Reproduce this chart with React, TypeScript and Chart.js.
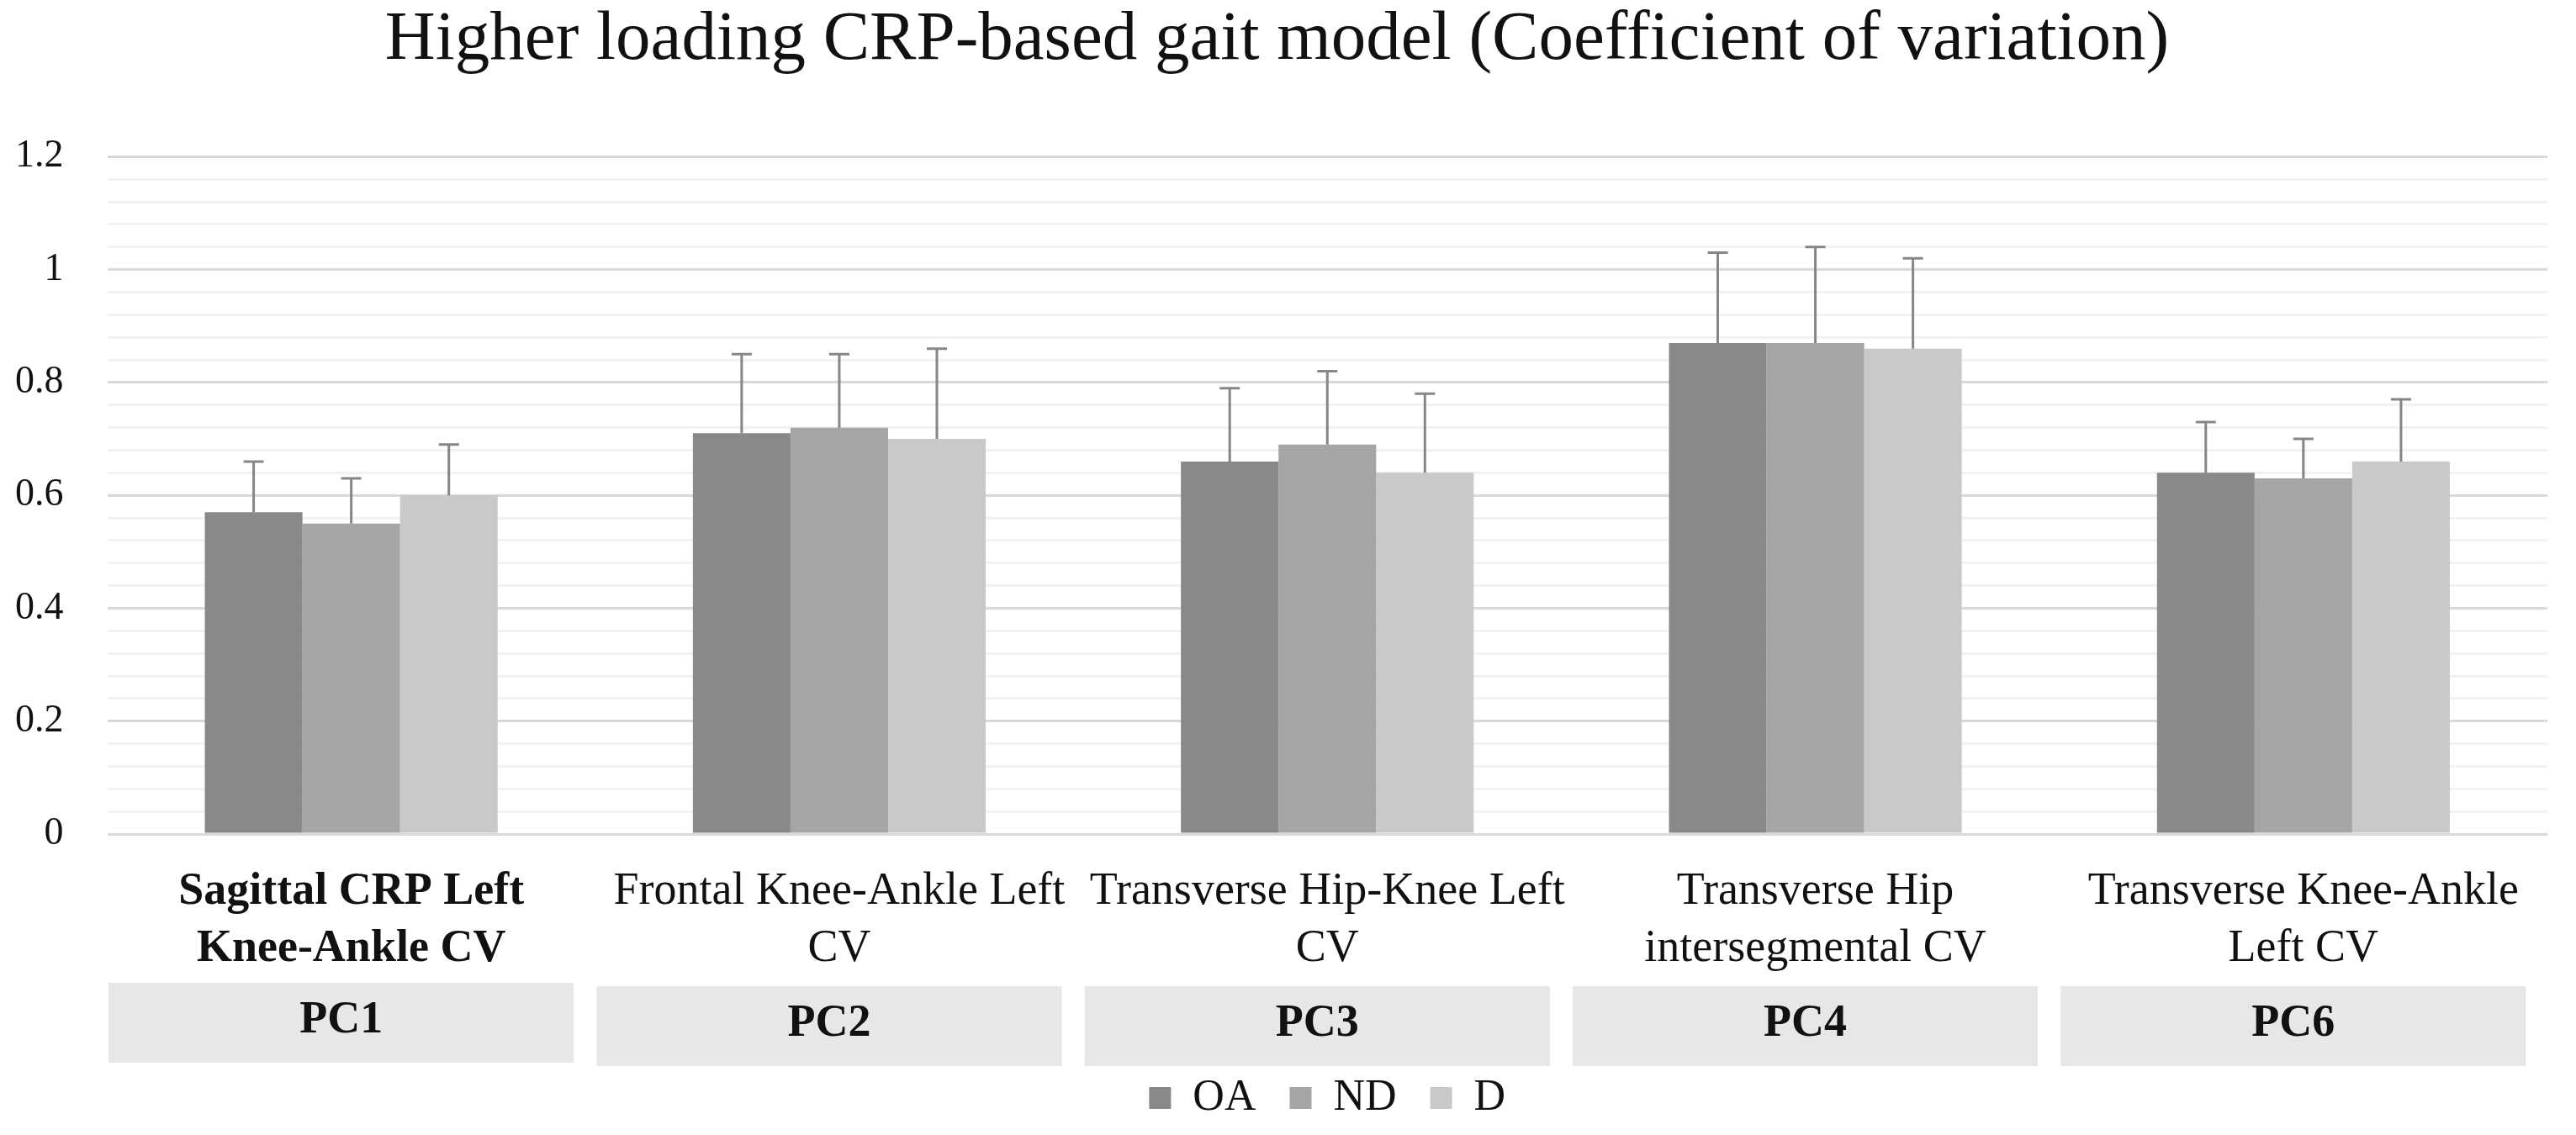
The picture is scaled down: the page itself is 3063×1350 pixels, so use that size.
import React, { useEffect, useRef } from 'react';
import { Chart, registerables } from 'chart.js';

Chart.register(...registerables);

const TITLE = 'Higher loading CRP-based gait model (Coefficient of variation)';
const CATEGORIES: string[][] = [
  ['Sagittal CRP Left', 'Knee-Ankle CV'],
  ['Frontal Knee-Ankle Left', 'CV'],
  ['Transverse Hip-Knee Left', 'CV'],
  ['Transverse Hip', 'intersegmental CV'],
  ['Transverse Knee-Ankle', 'Left CV'],
];
const COMPONENTS = ['PC1', 'PC2', 'PC3', 'PC4', 'PC6'];
const SERIES_NAMES = ['OA', 'ND', 'D'];

const OA_MEAN = [0.57, 0.71, 0.66, 0.87, 0.64];
const ND_MEAN = [0.55, 0.72, 0.69, 0.87, 0.63];
const D_MEAN = [0.6, 0.7, 0.64, 0.86, 0.66];

const OA_SD = [0.09, 0.14, 0.13, 0.16, 0.09];
const ND_SD = [0.08, 0.13, 0.13, 0.17, 0.07];
const D_SD = [0.09, 0.16, 0.14, 0.16, 0.11];

const Y_MIN = 0;
const Y_MAX = 1.2;
const Y_MINOR_STEP = 0.04;
const Y_MAJOR_STEP = 0.2;

const COLORS = ['#898989', '#a5a5a5', '#c9c9c9'];
const FONT = '"Liberation Serif", "Times New Roman", serif';

const SDS = [OA_SD, ND_SD, D_SD];

const isMajor = (v: number) => {
  const r = Math.round(v / Y_MAJOR_STEP);
  return Math.abs(v - r * Y_MAJOR_STEP) < 1e-6;
};

const errorBarPlugin = {
  id: 'errorBars',
  afterDatasetsDraw(chart: any) {
    const ctx = chart.ctx;
    const yScale = chart.scales.y;
    ctx.save();
    ctx.strokeStyle = '#868686';
    ctx.lineWidth = 3;
    chart.data.datasets.forEach((ds: any, di: number) => {
      const meta = chart.getDatasetMeta(di);
      meta.data.forEach((el: any, j: number) => {
        const v = ds.data[j];
        const top = yScale.getPixelForValue(v + SDS[di][j]);
        const x = el.x;
        ctx.beginPath();
        ctx.moveTo(x, el.y);
        ctx.lineTo(x, top);
        ctx.moveTo(x - 12, top);
        ctx.lineTo(x + 12, top);
        ctx.stroke();
      });
    });
    ctx.restore();
  },
};

const componentBoxPlugin = {
  id: 'componentBoxes',
  afterDraw(chart: any) {
    const ctx = chart.ctx;
    const xScale = chart.scales.x;
    const area = chart.chartArea;
    const catW = (xScale.right - xScale.left) / COMPONENTS.length;
    const w = catW * 0.953;
    ctx.save();
    COMPONENTS.forEach((name, i) => {
      const cx = xScale.getPixelForValue(i) - 12;
      const top = area.bottom + (i === 0 ? 177 : 181);
      const h = 95;
      ctx.fillStyle = '#e7e7e7';
      ctx.fillRect(cx - w / 2, top, w, h);
      ctx.fillStyle = '#111';
      ctx.font = `bold 54px ${FONT}`;
      ctx.textAlign = 'center';
      ctx.textBaseline = 'middle';
      ctx.fillText(name, cx, top + h / 2 - 2);
    });
    ctx.restore();
  },
};

export default function App() {
  const ref = useRef<HTMLCanvasElement>(null);

  useEffect(() => {
    if (!ref.current) return;
    const chart = new Chart(ref.current, {
      type: 'bar',
      data: {
        labels: CATEGORIES,
        datasets: [OA_MEAN, ND_MEAN, D_MEAN].map((d, i) => ({
          label: SERIES_NAMES[i],
          data: d,
          backgroundColor: COLORS[i],
          borderWidth: 0,
          categoryPercentage: 0.6,
          barPercentage: 1.0,
        })),
      },
      options: {
        responsive: false,
        animation: false,
        devicePixelRatio: 1,
        layout: { padding: { left: 0, right: 26, top: 0, bottom: 0 } },
        plugins: {
          title: {
            display: true,
            text: TITLE,
            color: '#111',
            font: { family: FONT, size: 83, weight: 'normal', lineHeight: 0.8 },
            padding: { top: 7, bottom: 105 },
          },
          legend: {
            display: true,
            position: 'bottom',
            fullSize: false,
            labels: {
              color: '#111',
              font: { family: FONT, size: 52 },
              boxWidth: 26,
              boxHeight: 26,
              padding: 40,
            },
          },
          tooltip: { enabled: false },
        },
        scales: {
          x: {
            grid: { display: false },
            border: { display: false },
            ticks: {
              color: '#111',
              padding: 27,
              maxRotation: 0,
              autoSkip: false,
              font: (c: any) => ({
                family: FONT,
                size: 54,
                lineHeight: 1.26,
                weight: c.index === 0 ? 'bold' : 'normal',
              }),
            },
            afterFit: (scale: any) => {
              scale.height = 248;
            },
          },
          y: {
            min: Y_MIN,
            max: Y_MAX,
            border: { display: false },
            grid: {
              drawTicks: false,
              color: (c: any) => (isMajor(c.tick.value) ? '#d9d9d9' : '#f2f2f2'),
              lineWidth: 3,
            },
            ticks: {
              stepSize: Y_MINOR_STEP,
              autoSkip: false,
              color: '#111',
              padding: 52,
              font: { family: FONT, size: 46 },
              callback: (v: any) => {
                const n = Number(v);
                if (!isMajor(n)) return '';
                return String(Number((Math.round(n / Y_MAJOR_STEP) * Y_MAJOR_STEP).toFixed(1)));
              },
            },
            afterFit: (scale: any) => {
              scale.width = 119.5;
            },
          },
        },
      },
      plugins: [errorBarPlugin, componentBoxPlugin],
    } as any);
    return () => chart.destroy();
  }, []);

  return (
    <div style={{ width: 3047, height: 1334 }}>
      <canvas ref={ref} width={3047} height={1334} style={{ display: 'block' }} />
    </div>
  );
}
